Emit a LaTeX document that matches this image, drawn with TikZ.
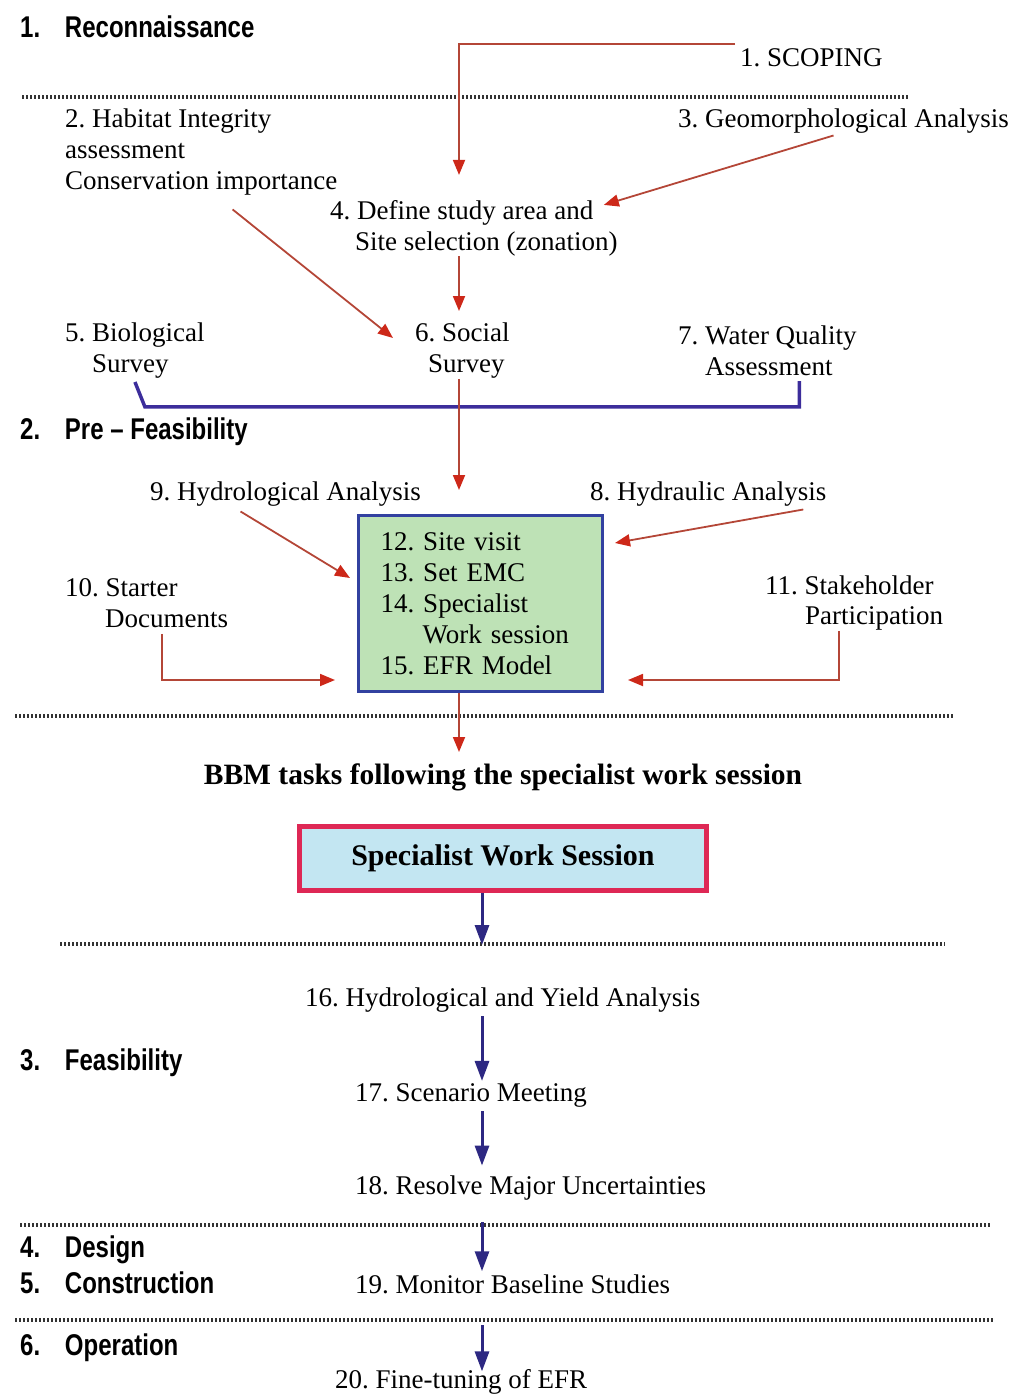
\documentclass[tikz,border=0pt]{standalone}
\usepackage{fontspec}
\setmainfont{Liberation Serif}
\newfontfamily\phasefont{Liberation Sans}
\usetikzlibrary{arrows.meta,calc}

\definecolor{linered}{RGB}{180,70,55}
\definecolor{tipred}{RGB}{205,40,25}
\definecolor{navy}{RGB}{45,40,130}
\definecolor{bracketblue}{RGB}{60,45,155}
\definecolor{boxgreen}{RGB}{190,226,182}
\definecolor{boxblue}{RGB}{50,65,160}
\definecolor{sessionfill}{RGB}{195,230,242}
\definecolor{sessionred}{RGB}{222,40,85}

\newcommand{\phaselabel}[2]{\scalebox{0.8}[1]{\makebox[56pt][l]{#1}#2}}
\frenchspacing

\begin{document}
\begin{tikzpicture}[x=1pt,y=-1pt,
  txt/.style={font=\fontsize{27}{31}\selectfont, inner sep=0pt, anchor=west, align=left},
  phase/.style={font=\phasefont\bfseries\fontsize{30}{34}\selectfont, inner sep=0pt, anchor=west},
  redarr/.style={draw=linered, line width=1.8pt, -{Triangle[length=15pt,width=12pt,color=tipred]}},
  bluearr/.style={draw=navy, line width=3pt, -{Triangle[length=20pt,width=14pt]}},
  sep/.style={draw=black!80, line width=3.5pt, dash pattern=on 1.5pt off 2.5pt}]
\useasboundingbox (0,0) rectangle (1017,1394);

% phases
\node[phase] (p1) at (20,27) {\phaselabel{1.}{Reconnaissance}};
\node[phase] (p2) at (20,432) {\phaselabel{2.}{Pre – Feasibility}};
\node[phase] (p3) at (20,1063) {\phaselabel{3.}{Feasibility}};
\node[phase] (p4) at (20,1250) {\phaselabel{4.}{Design}};
\node[phase] (p5) at (20,1283) {\phaselabel{5.}{Construction}};
\node[phase] (p6) at (20,1348) {\phaselabel{6.}{Operation}};

% separators
\draw[sep] (22,97) -- (910,97);
\draw[sep] (15,716) -- (955,716);
\draw[sep] (60,944) -- (945,944);
\draw[sep] (20,1225) -- (990,1225);
\draw[sep] (15,1320) -- (995,1320);

\coordinate (spine) at (459,0);
\coordinate (trunk) at (482,0);

% reconnaissance and pre-feasibility tasks
\node[txt] (scoping) at (740,58) {1. SCOPING};
\node[txt] (habitat) at (65,152) {2. Habitat Integrity\\assessment\\Conservation importance};
\node[txt] (geomorph) at (678,121) {3. Geomorphological Analysis};
\node[txt] (define) at (330,228) {4. Define study area and\\\hspace*{25pt}Site selection (zonation)};
\node[txt] (bio) at (65,351) {5. Biological\\\hspace*{27pt}Survey};
\node[txt] (social) at (415,351) {6. Social\\\hspace*{13pt}Survey};
\node[txt] (water) at (678,351) {7. Water Quality\\\hspace*{27pt}Assessment};
\node[txt] (hydrol) at (150,494) {9. Hydrological Analysis};
\node[txt] (hydraul) at (590,494) {8. Hydraulic Analysis};
\node[txt] (starter) at (65,603) {10. Starter\\\hspace*{40pt}Documents};
\node[txt] (stake) at (765,603) {11. Stakeholder\\\hspace*{40pt}Participation};

\node[txt, anchor=north west, draw=boxblue, line width=3pt, fill=boxgreen,
  minimum width=244, minimum height=176, text width=200pt,
  inner xsep=20pt, inner ysep=0pt, align=left] (efr) at (357,514)
  {12. Site visit\\13. Set EMC\\14. Specialist\\\hspace*{42pt}Work session\\15. EFR Model};

\draw[redarr] ([xshift=-5pt,yshift=5pt]scoping.north west) -| ([yshift=25pt]define.north -| spine);
\draw[redarr] ([xshift=-10pt,yshift=-2pt]geomorph.south) -- ([xshift=-14pt,yshift=-5pt]define.north east);
\draw[redarr] (define.south -| spine) -- ([yshift=12pt]social.north -| spine);
\draw[redarr] ([xshift=-105pt,yshift=-14pt]habitat.south east) -- ([xshift=-22pt,yshift=13pt]social.west);
\draw[draw=bracketblue, line width=3.5pt] ([yshift=-3pt]bio.south) -- ++(10,25) -| ([xshift=32pt,yshift=-5pt]water.south);
\draw[redarr] (social.south -| spine) -- ([yshift=24pt]efr.north -| spine);
\draw[redarr] ([xshift=-45pt,yshift=-5pt]hydrol.south) -- ([xshift=-7pt,yshift=-64pt]efr.north west);
\draw[redarr] ([xshift=95pt,yshift=-3pt]hydraul.south) -- ([xshift=11pt,yshift=-29pt]efr.north east);
\draw[redarr] ([xshift=15pt,yshift=-6pt]starter.south) |- ([xshift=-22pt,yshift=13pt]efr.south west);
\draw[redarr] ([xshift=-15pt]stake.south) |- ([xshift=24pt,yshift=13pt]efr.south east);
\draw[redarr] (efr.south -| spine) -- (spine |- 0,752);

% feasibility chain
\node[font=\fontsize{29.5}{34}\selectfont\bfseries, inner sep=0pt] (bbm) at (503,777) {BBM tasks following the specialist work session};
\node[draw=sessionred, line width=5pt, fill=sessionfill, minimum width=407, minimum height=64,
  font=\fontsize{30}{34}\selectfont\bfseries] (sws) at (503,858) {Specialist Work Session};
\node[txt] (yield) at (305,1000) {16. Hydrological and Yield Analysis};
\node[txt] (scen) at (355,1095) {17. Scenario Meeting};
\node[txt] (resolve) at (355,1188) {18. Resolve Major Uncertainties};
\node[txt] (monitor) at (355,1284) {19. Monitor Baseline Studies};
\node[txt] (fine) at (335,1382) {20. Fine-tuning of EFR};

\draw[bluearr] (sws.south -| trunk) -- (trunk |- 0,945);
\draw[bluearr] ([yshift=-4pt]yield.south -| trunk) -- ([yshift=2pt]scen.north -| trunk);
\draw[bluearr] ([yshift=-4pt]scen.south -| trunk) -- ([yshift=10pt]resolve.north -| trunk);
\draw[bluearr] (trunk |- 0,1222) -- ([yshift=3pt]monitor.north -| trunk);
\draw[bluearr] (trunk |- 0,1325) -- ([yshift=-2pt]fine.north -| trunk);
\end{tikzpicture}
\end{document}
